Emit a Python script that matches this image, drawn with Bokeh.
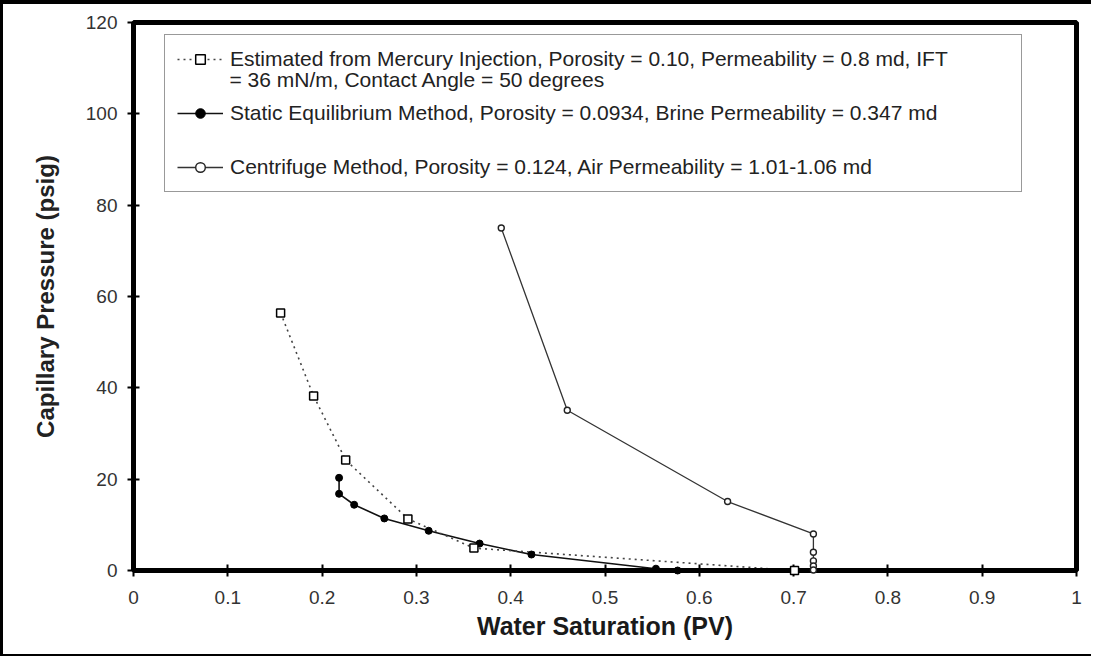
from bokeh.plotting import figure
from bokeh.models import Legend, LegendItem, Label, FixedTicker
from bokeh.embed import file_html
from bokeh.resources import INLINE

# Capillary pressure (psig) versus water saturation (PV) for three test methods
mercury_sw = [0.156, 0.191, 0.225, 0.291, 0.361, 0.701]
mercury_pc = [56.4, 38.2, 24.2, 11.3, 4.9, 0.0]

static_sw = [0.218, 0.218, 0.234, 0.266, 0.313, 0.367, 0.422, 0.554, 0.577]
static_pc = [20.3, 16.8, 14.4, 11.4, 8.7, 5.9, 3.5, 0.4, 0.0]

centrifuge_sw = [0.39, 0.46, 0.63, 0.721, 0.721, 0.721, 0.721, 0.721]
centrifuge_pc = [75.0, 35.1, 15.1, 8.0, 4.0, 2.1, 1.0, 0.1]

series_labels = [
    "Estimated from Mercury Injection, Porosity = 0.10, Permeability = 0.8 md, IFT",
    "Static Equilibrium Method, Porosity = 0.0934, Brine Permeability = 0.347 md",
    "Centrifuge Method, Porosity = 0.124, Air Permeability = 1.01-1.06 md",
]
mercury_label_cont = "= 36 mN/m, Contact Angle = 50 degrees"

x_ticks = [0, 0.1, 0.2, 0.3, 0.4, 0.5, 0.6, 0.7, 0.8, 0.9, 1]
x_tick_labels = ["0", "0.1", "0.2", "0.3", "0.4", "0.5", "0.6", "0.7", "0.8", "0.9", "1"]
y_ticks = [0, 20, 40, 60, 80, 100, 120]
y_tick_labels = ["0", "20", "40", "60", "80", "100", "120"]

FONT = "Liberation Sans"

p = figure(
    width=1091, height=656,
    x_range=(0, 1), y_range=(0, 120),
    output_backend="svg", toolbar_location=None,
    min_border_left=130, min_border_right=18,
    min_border_top=18, min_border_bottom=90,
)
p.styles = {
    "border-top": "4px solid #000",
    "border-left": "3px solid #000",
    "border-bottom": "2px solid #000",
}
p.background_fill_color = "white"
p.border_fill_color = "white"
p.xgrid.visible = False
p.ygrid.visible = False
p.outline_line_color = "black"
p.outline_line_width = 5
p.outline_line_alpha = 1.0

for ax in (p.xaxis[0], p.yaxis[0]):
    ax.axis_line_color = "black"
    ax.axis_line_width = 5
    ax.major_tick_line_color = "black"
    ax.major_tick_line_width = 2
    ax.major_tick_in = 6
    ax.major_tick_out = 6
    ax.minor_tick_line_color = None
    ax.major_label_text_font = FONT
    ax.major_label_text_font_size = "19px"
    ax.major_label_text_color = "#333333"

p.xaxis.ticker = FixedTicker(ticks=x_ticks)
p.xaxis.major_label_overrides = dict(zip(x_ticks, x_tick_labels))
p.yaxis.ticker = FixedTicker(ticks=y_ticks)
p.yaxis.major_label_overrides = dict(zip(y_ticks, y_tick_labels))
p.xaxis.major_label_standoff = 14
p.yaxis.major_label_standoff = 10

p.xaxis.axis_label = "Water Saturation (PV)"
p.xaxis.axis_label_text_font = FONT
p.xaxis.axis_label_text_font_style = "bold"
p.xaxis.axis_label_text_font_size = "25px"
p.xaxis.axis_label_text_color = "#1a1a1a"
p.xaxis.axis_label_standoff = 5

p.yaxis.axis_label = "Capillary Pressure (psig)"
p.yaxis.axis_label_text_font = FONT
p.yaxis.axis_label_text_font_style = "bold"
p.yaxis.axis_label_text_font_size = "24px"
p.yaxis.axis_label_text_color = "#222222"
p.yaxis.axis_label_standoff = 24

# Centrifuge: thin solid line, small open circles
c_line = p.line(centrifuge_sw, centrifuge_pc, line_color="#333333", line_width=1.3)
c_pts = p.scatter(centrifuge_sw, centrifuge_pc, marker="circle", size=6,
                  fill_color="white", line_color="#222222", line_width=1.4,
                  level="overlay")

# Static equilibrium: solid line, filled circles
s_line = p.line(static_sw, static_pc, line_color="#111111", line_width=1.6)
s_pts = p.scatter(static_sw, static_pc, marker="circle", size=7,
                  fill_color="black", line_color="black", line_width=1,
                  level="overlay")

# Mercury injection estimate: dotted line, open squares
m_line = p.line(mercury_sw, mercury_pc, line_color="#444444", line_width=1.6,
                line_dash="2 4")
m_pts = p.scatter(mercury_sw, mercury_pc, marker="square", size=8,
                  fill_color="white", line_color="black", line_width=1.5,
                  level="overlay")

# Second line of the mercury-injection legend entry, under its first line
cont = Label(
    x=0.1018, y=107.6,
    text=mercury_label_cont, text_baseline="middle",
    text_font=FONT, text_font_size="21px", text_color="#222222",
)
p.add_layout(cont)

legend = Legend(
    items=[
        LegendItem(label=series_labels[0], renderers=[m_line, m_pts]),
        LegendItem(label=series_labels[1], renderers=[s_line, s_pts]),
        LegendItem(label=series_labels[2], renderers=[c_line, c_pts]),
    ],
    location=(31, 378),
    orientation="vertical",
    margin=0,
    padding=12,
    spacing=30,
    glyph_width=46,
    glyph_height=24,
    label_height=24,
    label_width=779,
    label_standoff=7,
    label_text_font=FONT,
    label_text_font_size="21px",
    label_text_color="#222222",
    border_line_color="#333333",
    border_line_width=1.5,
    background_fill_alpha=0.0,
)
p.add_layout(legend)

open("out.html", "w").write(file_html(p, INLINE))
